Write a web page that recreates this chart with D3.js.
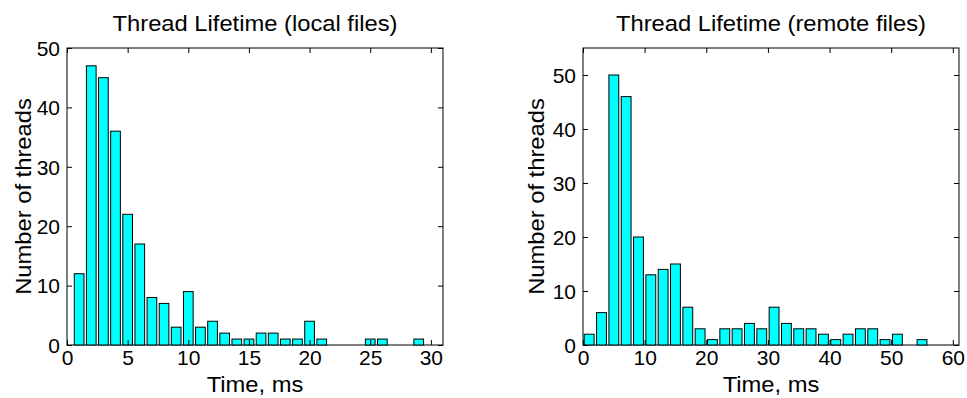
<!DOCTYPE html>
<html><head><meta charset="utf-8">
<script src="https://cdn.jsdelivr.net/npm/d3@7"></script>
<style>body{margin:0;background:#fff}svg{display:block}text{font-family:"Liberation Sans",Arial,sans-serif;fill:#000}</style>
</head><body>
<svg id="c" width="967" height="398"></svg>
<script>
// ---- data ----
const localTimes = [1,2,3,4,5,6,7,8,9,10,11,12,13,14,15,16,17,18,19,20,21,22,23,24,25,26,27,28,29];
const localCounts = [12,47,45,36,22,17,8,7,3,9,3,4,2,1,1,2,2,1,1,4,1,0,0,0,1,1,0,0,1];
const remoteTimes = [1,3,5,7,9,11,13,15,17,19,21,23,25,27,29,31,33,35,37,39,41,43,45,47,49,51,53,55,57];
const remoteCounts = [2,6,50,46,20,13,14,15,7,3,1,3,3,4,3,7,4,3,3,2,1,2,3,3,1,2,0,1,0];
const localXTicks = [0,5,10,15,20,25,30];
const remoteXTicks = [0,10,20,30,40,50,60];
const yTicks = [0,10,20,30,40,50];
const titles = ["Thread Lifetime (local files)","Thread Lifetime (remote files)"];
const xLabel = "Time, ms";
const yLabel = "Number of threads";

const svg = d3.select("#c");
const SX = 1.05, LX = 1.08;

function panel(cfg){
  const {left,right,top,bottom,xDom,yDom,times,counts,binW,xTicks,title,ylabX} = cfg;
  const x = d3.scaleLinear().domain(xDom).range([left,right]);
  const y = d3.scaleLinear().domain(yDom).range([bottom,top]);
  const g = svg.append("g");
  const bw = binW*0.8;
  // frame
  g.append("rect").attr("x",left).attr("y",top).attr("width",right-left).attr("height",bottom-top)
    .attr("fill","none").attr("stroke","#000").attr("stroke-width",1);
  g.selectAll("rect.bar").data(times).join("rect").attr("class","bar")
    .attr("x",(d)=>x(d-bw/2)).attr("width",(d)=>x(d+bw/2)-x(d-bw/2))
    .attr("y",(d,i)=>y(counts[i])).attr("height",(d,i)=>y(0)-y(counts[i]))
    .attr("fill","#00ffff").attr("stroke",(d,i)=>counts[i]===0?"#1f8080":"#000").attr("stroke-width",1);
  const tl=5;
  const xb = d3.axisBottom(x).tickValues(xTicks).tickSize(-tl).tickPadding(6).tickFormat(d3.format("d"));
  const gx = g.append("g").attr("transform",`translate(0,${bottom})`).call(xb);
  const xt = d3.axisTop(x).tickValues(xTicks).tickSize(-tl).tickFormat("");
  const gxt = g.append("g").attr("transform",`translate(0,${top})`).call(xt);
  const yl = d3.axisLeft(y).tickValues(yTicks).tickSize(-tl).tickPadding(7).tickFormat(d3.format("d"));
  const gy = g.append("g").attr("transform",`translate(${left},0)`).call(yl);
  const yr = d3.axisRight(y).tickValues(yTicks).tickSize(-tl).tickFormat("");
  const gyr = g.append("g").attr("transform",`translate(${right},0)`).call(yr);
  [gx,gxt,gy,gyr].forEach(a=>{a.select(".domain").remove();a.selectAll("line").attr("stroke","#000");});
  gx.selectAll("text").attr("font-size",20).attr("font-family","Liberation Sans, Arial, sans-serif").attr("fill","#000")
    .attr("transform",`scale(${SX},1)`);
  gy.selectAll("text").attr("font-size",20).attr("font-family","Liberation Sans, Arial, sans-serif").attr("fill","#000").attr("dy","0.36em")
    .each(function(){const t=d3.select(this);t.attr("x",+t.attr("x")/SX).attr("transform",`scale(${SX},1)`);});
  g.append("text").attr("transform",`translate(${(left+right)/2},31) scale(${LX},1)`).attr("text-anchor","middle").attr("font-size",22).text(title);
  g.append("text").attr("transform",`translate(${(left+right)/2},392) scale(${LX},1)`).attr("text-anchor","middle").attr("font-size",22).text(xLabel);
  g.append("text").attr("transform",`translate(${ylabX},${(top+bottom)/2}) rotate(-90) scale(${LX},1)`).attr("text-anchor","middle").attr("font-size",22).text(yLabel);
}

panel({left:67,right:443,top:48,bottom:345,xDom:[0,31],yDom:[0,50],times:localTimes,counts:localCounts,binW:1,xTicks:localXTicks,title:titles[0],ylabX:31});
panel({left:583,right:959,top:48,bottom:345,xDom:[0,61],yDom:[0,55],times:remoteTimes,counts:remoteCounts,binW:2,xTicks:remoteXTicks,title:titles[1],ylabX:544});
</script>
</body></html>
